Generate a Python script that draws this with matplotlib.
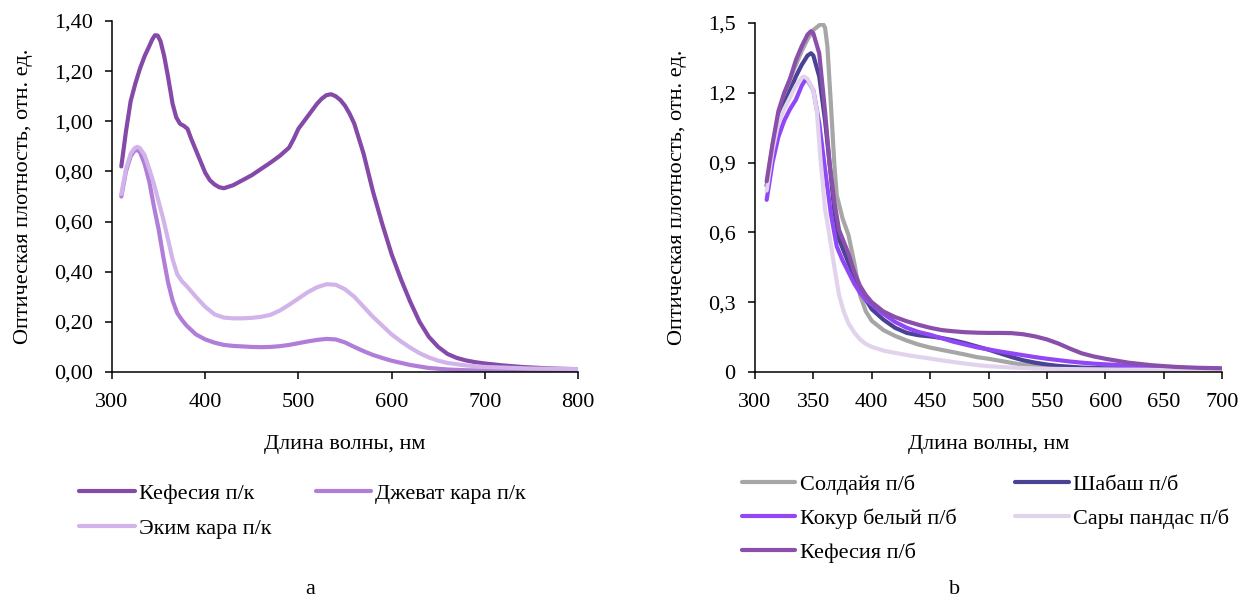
import matplotlib
matplotlib.use("Agg")
import matplotlib.pyplot as plt
from matplotlib.ticker import FixedLocator, FixedFormatter

plt.rcParams['font.family'] = ['Liberation Serif', 'DejaVu Serif']

# ---------- panel a: п/к samples ----------
wl_kef_pk = [310, 315, 320, 325, 330, 335, 340, 343, 346, 349, 352, 356, 360, 365, 369, 373, 377, 381,
             385, 390, 395, 400, 405, 410, 415, 420, 430, 440, 450, 460, 470, 480, 490, 495, 500, 505,
             510, 515, 520, 525, 530, 535, 540, 545, 550, 555, 560, 570, 580, 590, 600, 610, 620, 630,
             640, 650, 660, 670, 680, 690, 700, 720, 740, 760, 780, 800]
kef_pk = [0.82, 0.96, 1.08, 1.15, 1.21, 1.26, 1.30, 1.325, 1.343, 1.342, 1.32, 1.26, 1.18, 1.07, 1.015, 0.99, 0.982, 0.97,
          0.93, 0.885, 0.84, 0.795, 0.765, 0.748, 0.737, 0.733, 0.745, 0.765, 0.785, 0.81, 0.835, 0.862, 0.895, 0.93, 0.97, 0.995,
          1.02, 1.045, 1.07, 1.09, 1.104, 1.108, 1.10, 1.085, 1.062, 1.03, 0.99, 0.87, 0.72, 0.59, 0.47, 0.37, 0.28, 0.20,
          0.14, 0.10, 0.072, 0.056, 0.046, 0.039, 0.034, 0.026, 0.020, 0.016, 0.013, 0.011]

wl_dzh = [310, 315, 320, 324, 327, 330, 335, 340, 345, 350, 355, 360, 365, 370, 375, 380, 390, 400,
          410, 420, 430, 440, 450, 460, 470, 480, 490, 500, 510, 520, 530, 540, 550, 560, 570,
          580, 590, 600, 620, 640, 660, 680, 700, 750, 800]
dzh = [0.70, 0.80, 0.86, 0.882, 0.886, 0.877, 0.83, 0.76, 0.66, 0.57, 0.46, 0.36, 0.285, 0.235, 0.208, 0.185, 0.15, 0.13,
       0.117, 0.108, 0.104, 0.102, 0.100, 0.099, 0.100, 0.103, 0.108, 0.115, 0.122, 0.128, 0.132, 0.130, 0.118, 0.100, 0.083,
       0.068, 0.056, 0.045, 0.028, 0.016, 0.010, 0.007, 0.006, 0.005, 0.004]

wl_ekim = [310, 315, 320, 324, 327, 330, 335, 340, 345, 350, 355, 360, 365, 370, 375, 380, 390, 400,
           410, 420, 430, 440, 450, 460, 470, 480, 490, 500, 510, 520, 530, 540, 550, 560, 570,
           580, 590, 600, 610, 620, 630, 640, 650, 660, 680, 700, 750, 800]
ekim = [0.71, 0.81, 0.87, 0.892, 0.898, 0.893, 0.865, 0.81, 0.75, 0.68, 0.61, 0.53, 0.45, 0.39, 0.362, 0.343, 0.30, 0.26,
        0.23, 0.217, 0.214, 0.214, 0.216, 0.220, 0.228, 0.245, 0.268, 0.293, 0.318, 0.338, 0.350, 0.348, 0.33, 0.30, 0.26,
        0.22, 0.185, 0.150, 0.122, 0.097, 0.075, 0.058, 0.045, 0.036, 0.026, 0.020, 0.014, 0.012]

# ---------- panel b: п/б samples ----------
wl_sold = [310, 315, 320, 325, 330, 335, 340, 345, 350, 355, 358, 360, 362, 365, 368, 370, 375, 380,
           385, 390, 395, 400, 410, 420, 430, 440, 450, 460, 470, 480, 490, 500, 510, 520, 530, 540,
           550, 560, 580, 600, 650, 700]
sold = [0.80, 0.97, 1.10, 1.19, 1.26, 1.32, 1.38, 1.43, 1.47, 1.49, 1.497, 1.48, 1.40, 1.15, 0.89, 0.76, 0.66, 0.59,
        0.47, 0.33, 0.26, 0.22, 0.18, 0.155, 0.135, 0.118, 0.105, 0.095, 0.085, 0.075, 0.064, 0.057, 0.048, 0.039, 0.031, 0.026,
        0.022, 0.019, 0.016, 0.015, 0.013, 0.012]

wl_shab = [310, 315, 320, 325, 330, 335, 340, 345, 348, 350, 355, 360, 364, 368, 372, 376, 380, 385,
           390, 395, 400, 410, 420, 430, 440, 450, 460, 470, 480, 490, 500, 510, 520, 530, 540, 550,
           560, 580, 600, 650, 700]
shab = [0.80, 0.96, 1.08, 1.15, 1.21, 1.27, 1.32, 1.36, 1.37, 1.36, 1.27, 1.08, 0.89, 0.69, 0.57, 0.52, 0.47, 0.41,
        0.36, 0.31, 0.27, 0.225, 0.19, 0.168, 0.158, 0.153, 0.146, 0.136, 0.124, 0.11, 0.096, 0.08, 0.064, 0.05, 0.04, 0.032,
        0.026, 0.019, 0.016, 0.013, 0.012]

wl_kokur = [310, 315, 320, 325, 330, 335, 340, 343, 345, 350, 355, 360, 365, 370, 375, 380, 385, 390,
            395, 400, 410, 420, 430, 440, 450, 460, 470, 480, 490, 500, 510, 520, 530, 540, 550, 560,
            570, 580, 590, 600, 620, 640, 660, 680, 700]
kokur = [0.74, 0.90, 1.01, 1.08, 1.13, 1.17, 1.23, 1.255, 1.255, 1.21, 1.07, 0.87, 0.68, 0.54, 0.48, 0.43, 0.38, 0.34,
         0.31, 0.29, 0.25, 0.215, 0.19, 0.172, 0.16, 0.145, 0.13, 0.118, 0.106, 0.097, 0.088, 0.08, 0.072, 0.064, 0.057, 0.051,
         0.045, 0.040, 0.036, 0.033, 0.027, 0.021, 0.018, 0.015, 0.013]

wl_sary = [310, 315, 320, 325, 330, 335, 340, 342, 345, 350, 353, 356, 360, 364, 368, 372, 376, 380,
           385, 390, 395, 400, 410, 420, 430, 440, 450, 460, 470, 480, 490, 500, 520, 540, 560, 600,
           650, 700]
sary = [0.78, 0.95, 1.07, 1.13, 1.18, 1.23, 1.265, 1.27, 1.26, 1.21, 1.12, 0.92, 0.70, 0.58, 0.45, 0.33, 0.26, 0.21,
        0.17, 0.14, 0.12, 0.108, 0.092, 0.082, 0.073, 0.065, 0.058, 0.050, 0.043, 0.036, 0.030, 0.025, 0.019, 0.015, 0.013, 0.011,
        0.009, 0.008]

wl_kef_pb = [310, 315, 320, 325, 330, 335, 340, 345, 348, 350, 355, 358, 360, 364, 368, 372, 376, 380,
             385, 390, 395, 400, 410, 420, 430, 440, 450, 460, 470, 480, 490, 500, 510, 520, 530, 540,
             550, 560, 570, 580, 590, 600, 620, 640, 660, 680, 700]
kef_pb = [0.82, 0.98, 1.12, 1.20, 1.26, 1.34, 1.40, 1.45, 1.465, 1.455, 1.37, 1.22, 1.12, 0.89, 0.73, 0.61, 0.56, 0.51,
          0.43, 0.37, 0.33, 0.30, 0.26, 0.236, 0.218, 0.203, 0.19, 0.18, 0.175, 0.171, 0.169, 0.168, 0.168, 0.167, 0.162, 0.153,
          0.14, 0.122, 0.10, 0.08, 0.067, 0.057, 0.04, 0.029, 0.022, 0.018, 0.016]

# ---------- tick labels ----------
a_xticks = [300, 400, 500, 600, 700, 800]
a_yticks = [0.0, 0.2, 0.4, 0.6, 0.8, 1.0, 1.2, 1.4]
a_ylabels = ['0,00', '0,20', '0,40', '0,60', '0,80', '1,00', '1,20', '1,40']
b_xticks = [300, 350, 400, 450, 500, 550, 600, 650, 700]
b_yticks = [0.0, 0.3, 0.6, 0.9, 1.2, 1.5]
b_ylabels = ['0', '0,3', '0,6', '0,9', '1,2', '1,5']

xlabel = 'Длина волны, нм'
ylabel = 'Оптическая плотность, отн. ед.'

FS = 16
LW = 3.0

fig = plt.figure(figsize=(12.41, 6.01), dpi=100)
W, H = 1241, 601


def axes_px(l, r, b, t):
    return fig.add_axes([l / W, 1 - b / H, (r - l) / W, (b - t) / H])


def style(ax, xticks, xlim, yticks, ylabels, ylim):
    for s in ('top', 'right'):
        ax.spines[s].set_visible(False)
    for s in ('left', 'bottom'):
        ax.spines[s].set_linewidth(1.1)
        ax.spines[s].set_color('black')
    ax.set_xlim(*xlim)
    ax.set_ylim(*ylim)
    ax.xaxis.set_major_locator(FixedLocator(xticks))
    ax.yaxis.set_major_locator(FixedLocator(yticks))
    ax.yaxis.set_major_formatter(FixedFormatter(ylabels))
    ax.tick_params(direction='out', length=5, width=1.1, labelsize=FS, colors='black')
    ax.tick_params(axis='x', pad=10)
    ax.tick_params(axis='y', pad=9)
    ax.set_xlabel(xlabel, fontsize=FS, labelpad=17)
    ax.set_ylabel(ylabel, fontsize=FS, labelpad=15)


# panel a
axa = axes_px(112, 578, 372, 21)
la1, = axa.plot(wl_kef_pk, kef_pk, color='#8549a8', lw=LW, solid_capstyle='round', label='Кефесия п/к')
la2, = axa.plot(wl_dzh, dzh, color='#b07ed8', lw=LW, solid_capstyle='round', label='Джеват кара п/к')
la3, = axa.plot(wl_ekim, ekim, color='#d3b4ea', lw=LW, solid_capstyle='round', label='Эким кара п/к')
style(axa, a_xticks, (300, 800), a_yticks, a_ylabels, (0, 1.4))
axa.legend(handles=[la1, la3, la2], ncol=2, frameon=False, fontsize=FS,
           loc='upper left', bbox_to_anchor=(79 / W, 1 - 483 / H), bbox_transform=fig.transFigure,
           borderaxespad=0, borderpad=0, handlelength=2.5, handletextpad=0.18,
           columnspacing=2.0, labelspacing=0.66)
fig.text(310 / W, 1 - 589 / H, 'a', fontsize=FS, ha='center', va='center')

# panel b
axb = axes_px(755, 1222, 372, 23)
lb1, = axb.plot(wl_sold, sold, color='#a6a6a6', lw=LW, solid_capstyle='round', label='Солдайя п/б')
lb2, = axb.plot(wl_shab, shab, color='#4a4295', lw=LW, solid_capstyle='round', label='Шабаш п/б')
lb3, = axb.plot(wl_kokur, kokur, color='#9147f5', lw=LW, solid_capstyle='round', label='Кокур белый п/б')
lb4, = axb.plot(wl_sary, sary, color='#e1d3ec', lw=LW, solid_capstyle='round', label='Сары пандас п/б')
lb5, = axb.plot(wl_kef_pb, kef_pb, color='#8a4fab', lw=LW, solid_capstyle='round', label='Кефесия п/б')
style(axb, b_xticks, (300, 700), b_yticks, b_ylabels, (0, 1.5))
axb.legend(handles=[lb1, lb3, lb5, lb2, lb4], ncol=2, frameon=False, fontsize=FS,
           loc='upper left', bbox_to_anchor=(742 / W, 1 - 474 / H), bbox_transform=fig.transFigure,
           borderaxespad=0, borderpad=0, handlelength=2.4, handletextpad=0.2,
           columnspacing=2.65, labelspacing=0.62)
fig.text(955 / W, 1 - 589 / H, 'b', fontsize=FS, ha='center', va='center')

fig.savefig('out.png', dpi=100, facecolor='white')
